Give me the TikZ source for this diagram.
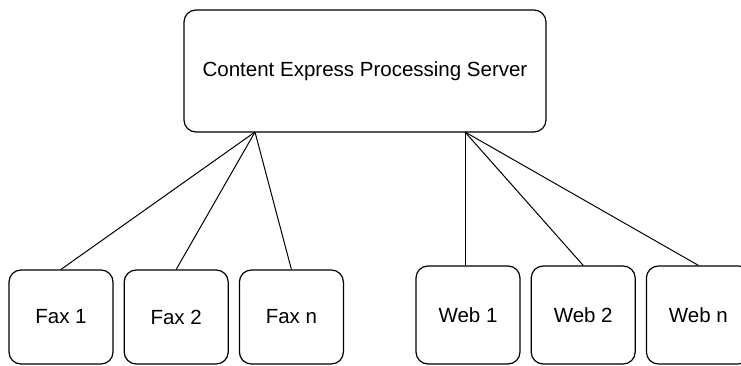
\documentclass[tikz,border=0pt]{standalone}
\usepackage{fontspec}
\setmainfont{Liberation Sans}
\usepackage{tikz}
\usetikzlibrary{positioning}
\tikzstyle{server} = [
    rectangle,
    rounded corners=12pt,
    minimum width=362pt,
    minimum height=122pt,
    inner sep=0pt,
    draw=black,
    line width=1.2pt,
    font=\fontsize{20.5}{24}\selectfont
]
\tikzstyle{outlet} = [
    rectangle,
    rounded corners=12pt,
    minimum width=104pt,
    minimum height=94pt,
    inner sep=0pt,
    draw=black,
    line width=1.2pt,
    font=\fontsize{20.5}{24}\selectfont
]
\tikzstyle{link} = [
    line width=1pt,
    draw=black
]
\begin{document}
\begin{tikzpicture}[
        x=1pt, y=-1pt,
        node distance=10pt
    ]
        \clip (0,0) rectangle (741,366);
        \node[server] (srv) at (365,71) {\raisebox{3pt}{Content Express Processing Server}};
        \coordinate (faxhub) at (255,132);
        \coordinate (webhub) at (465,132);

        \node[outlet] (fax1) at (61,317) {Fax 1};
        \node[outlet, right=of fax1] (fax2) {Fax 2};
        \node[outlet, right=of fax2] (faxn) {Fax n};

        \node[outlet, minimum height=98pt] (web1) at (468,315) {Web 1};
        \node[outlet, minimum height=98pt, right=of web1] (web2) {Web 2};
        \node[outlet, minimum height=98pt, right=of web2] (webn) {Web n};

        \draw[link] (faxhub) -- (fax1.north);
        \draw[link] (faxhub) -- (fax2.north);
        \draw[link] (faxhub) -- (faxn.north);
        \draw[link] (webhub) -- (web1.north -| webhub);
        \draw[link] (webhub) -- (web2.north);
        \draw[link] (webhub) -- (webn.north);
    \end{tikzpicture}
\end{document}
